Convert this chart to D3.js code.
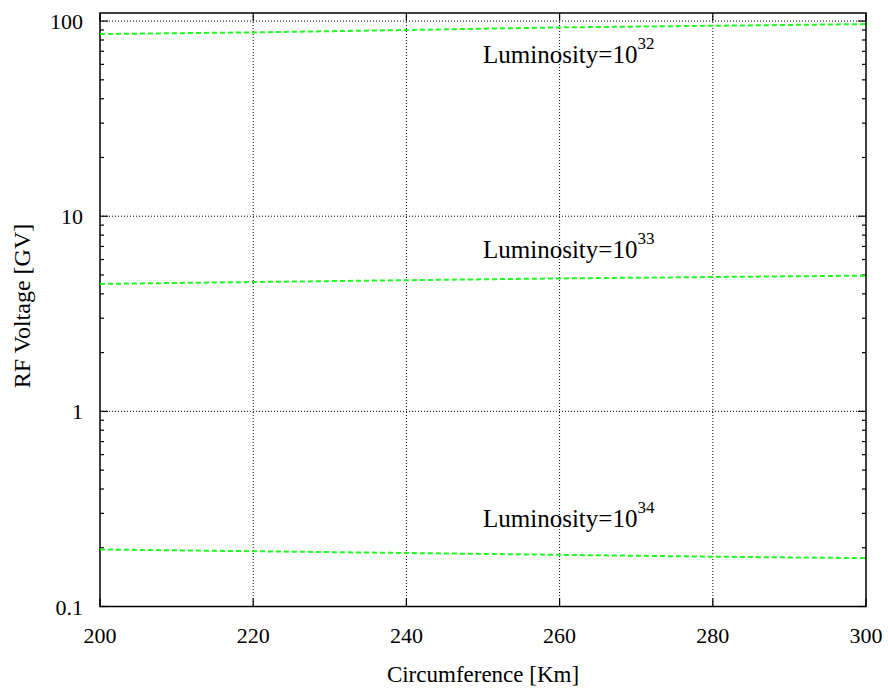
<!DOCTYPE html>
<html>
<head>
<meta charset="utf-8">
<script src="https://cdn.jsdelivr.net/npm/d3@7"></script>
<style>
  body { margin: 0; background: #fff; }
</style>
</head>
<body>
<div id="chart"></div>
<script>
// data
var circumference = [200, 220, 240, 260, 280, 300];
var lum32 = [85.8, 87.5, 90.0, 92.8, 94.6, 96.5];
var lum33 = [4.50, 4.60, 4.70, 4.80, 4.88, 4.96];
var lum34 = [0.196, 0.192, 0.188, 0.184, 0.180, 0.177];
var seriesNames = ["32", "33", "34"];
var labelAt = [[250, 61], [250, 6.1], [250, 0.255]]; // x value, y value for each label
var xTicks = [200, 220, 240, 260, 280, 300];
var yTicks = [0.1, 1, 10, 100];

var svgWidth = 888, svgHeight = 692;
var margin = { top: 13, right: 22, bottom: 85.5, left: 100 };
var width = svgWidth - margin.left - margin.right;
var height = svgHeight - margin.top - margin.bottom;
var serif = "'Liberation Serif', serif";

var svg = d3.select("#chart").append("svg")
  .attr("width", svgWidth)
  .attr("height", svgHeight);

var g = svg.append("g")
  .attr("transform", `translate(${margin.left}, ${margin.top})`);

var x = d3.scaleLinear().domain([200, 300]).range([0, width]);
var y = d3.scaleLog().domain([0.1, 110]).range([height, 0]);

// minor ticks for log axis
var minor = [];
[0.1, 1, 10].forEach(function(d) {
  for (var k = 2; k <= 9; k++) minor.push(d * k);
});

// grid
g.selectAll(".gx").data(xTicks.slice(1, -1)).enter().append("line")
  .attr("x1", d => x(d)).attr("x2", d => x(d))
  .attr("y1", 0).attr("y2", height)
  .attr("stroke", "#000").attr("stroke-width", 1)
  .attr("stroke-dasharray", "1,2");
g.selectAll(".gy").data(yTicks.slice(1)).enter().append("line")
  .attr("x1", 0).attr("x2", width)
  .attr("y1", d => y(d)).attr("y2", d => y(d))
  .attr("stroke", "#000").attr("stroke-width", 1)
  .attr("stroke-dasharray", "1,2");

// ticks (inward, mirrored)
var tickLines = g.append("g").attr("stroke", "#000").attr("stroke-width", 1.2);
xTicks.forEach(function(d) {
  tickLines.append("line").attr("x1", x(d)).attr("x2", x(d)).attr("y1", height).attr("y2", height - 8);
  tickLines.append("line").attr("x1", x(d)).attr("x2", x(d)).attr("y1", 0).attr("y2", 8);
});
yTicks.forEach(function(d) {
  tickLines.append("line").attr("x1", 0).attr("x2", 8).attr("y1", y(d)).attr("y2", y(d));
  tickLines.append("line").attr("x1", width).attr("x2", width - 8).attr("y1", y(d)).attr("y2", y(d));
});
minor.forEach(function(d) {
  tickLines.append("line").attr("x1", 0).attr("x2", 4).attr("y1", y(d)).attr("y2", y(d));
  tickLines.append("line").attr("x1", width).attr("x2", width - 4).attr("y1", y(d)).attr("y2", y(d));
});

// tick labels
g.selectAll(".xl").data(xTicks).enter().append("text")
  .attr("x", d => x(d)).attr("y", height + 36)
  .attr("text-anchor", "middle").attr("font-size", 22)
  .style("font-family", serif)
  .text(d => d);
g.selectAll(".yl").data(yTicks).enter().append("text")
  .attr("x", -17).attr("y", d => y(d) + 8)
  .attr("text-anchor", "end").attr("font-size", 22)
  .style("font-family", serif)
  .text(d => d);

// frame
g.append("rect")
  .attr("width", width).attr("height", height)
  .attr("fill", "none").attr("stroke", "#000").attr("stroke-width", 1.5);

// curves
var line = d3.line()
  .x((d, i) => x(circumference[i]))
  .y(d => y(d));

[lum32, lum33, lum34].forEach(function(s) {
  g.append("path")
    .datum(s)
    .attr("d", line)
    .attr("fill", "none")
    .attr("stroke", "#1aff1a")
    .attr("stroke-width", 2)
    .attr("stroke-dasharray", "5,3");
});

// labels
seriesNames.forEach(function(n, i) {
  var t = g.append("text")
    .attr("x", x(labelAt[i][0]))
    .attr("y", y(labelAt[i][1]))
    .attr("font-size", 25)
    .style("font-family", serif);
  t.append("tspan").text("Luminosity=10");
  t.append("tspan").attr("dy", -14).attr("font-size", 17).text(n);
});

// axis titles
svg.append("text")
  .attr("x", margin.left + width / 2).attr("y", 682)
  .attr("text-anchor", "middle").attr("font-size", 23)
  .style("font-family", serif)
  .text("Circumference [Km]");
svg.append("text")
  .attr("transform", "translate(30, 306) rotate(-90)")
  .attr("text-anchor", "middle").attr("font-size", 24)
  .style("font-family", serif)
  .text("RF Voltage [GV]");
</script>
</body>
</html>
